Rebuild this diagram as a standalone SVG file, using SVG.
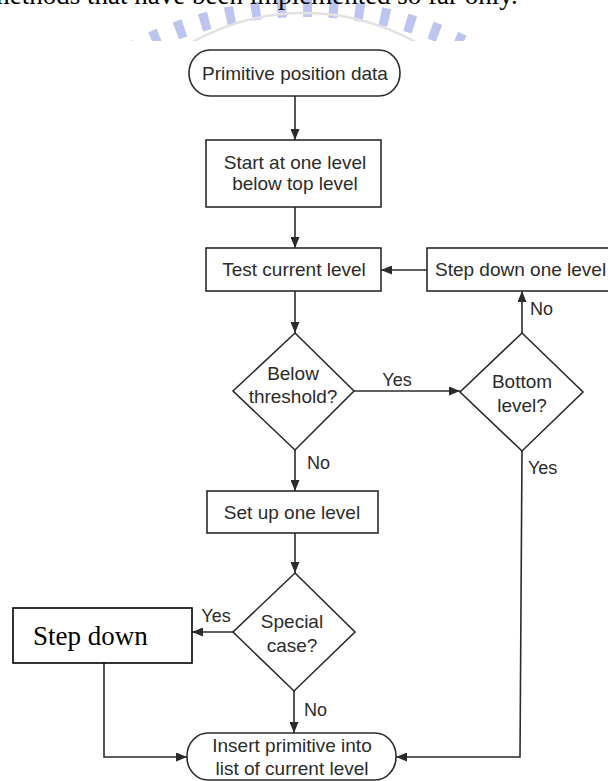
<svg xmlns="http://www.w3.org/2000/svg" width="608" height="781" viewBox="0 0 608 781">
  <defs>
    <style>
      .box { fill: #ffffff; stroke: #2b2b2b; stroke-width: 1.6; }
      .ln { fill: none; stroke: #2b2b2b; stroke-width: 1.6; }
      .t { font-family: "Liberation Sans", Arial, sans-serif; font-size: 19px; fill: #2b2b2b; text-anchor: middle; }
      .t.left { text-anchor: start; }
      .lbl { font-family: "Liberation Sans", Arial, sans-serif; font-size: 18px; fill: #2b2b2b; }
      .lbl.mid { text-anchor: middle; }
      .serif { font-family: "Liberation Serif", "Times New Roman", serif; fill: #000000; }
    </style>
    <marker id="arrow" markerUnits="userSpaceOnUse" markerWidth="11" markerHeight="9" refX="11" refY="4.5" orient="auto">
      <path d="M0,0 L11,4.5 L0,9 z" fill="#2b2b2b"/>
    </marker>
    <clipPath id="topStrip">
      <rect x="0" y="0" width="608" height="41"/>
    </clipPath>
  </defs>

  <rect x="0" y="0" width="608" height="781" fill="#ffffff"/>

  <!-- page header: watermark and the tail of the preceding text line -->
  <g id="page-top" clip-path="url(#topStrip)">
    <circle cx="304" cy="378" r="370" fill="none" stroke="#bcc5f0" stroke-width="18" stroke-dasharray="9 17"/>
    <circle cx="304" cy="242" r="229" fill="none" stroke="#e2e2e2" stroke-width="2.5"/>
    <text class="serif" x="-51" y="4" font-size="27">the methods that have been implemented so far only.</text>
  </g>

  <!-- connectors -->
  <g id="connectors">
    <path class="ln" d="M295,96 V140" marker-end="url(#arrow)"/>
    <path class="ln" d="M295,207 V248" marker-end="url(#arrow)"/>
    <path class="ln" d="M295,291 V333" marker-end="url(#arrow)"/>
    <path class="ln" d="M295,450 V491" marker-end="url(#arrow)"/>
    <path class="ln" d="M295,533 V573" marker-end="url(#arrow)"/>
    <path class="ln" d="M294,691 V733" marker-end="url(#arrow)"/>
    <path class="ln" d="M354,391 H460" marker-end="url(#arrow)"/>
    <path class="ln" d="M522,333 V291" marker-end="url(#arrow)"/>
    <path class="ln" d="M427,270 H381" marker-end="url(#arrow)"/>
    <path class="ln" d="M522,451 L520,757 H396" marker-end="url(#arrow)"/>
    <path class="ln" d="M233,632 H192" marker-end="url(#arrow)"/>
    <path class="ln" d="M104,663 V757 H187" marker-end="url(#arrow)"/>

    <text class="lbl" x="530" y="315">No</text>
    <text class="lbl mid" x="397" y="386">Yes</text>
    <text class="lbl" x="307" y="469">No</text>
    <text class="lbl" x="528" y="474">Yes</text>
    <text class="lbl mid" x="216" y="622">Yes</text>
    <text class="lbl" x="304" y="716">No</text>
  </g>

  <!-- nodes -->
  <g id="primitive-position-data">
    <rect class="box" x="189" y="50" width="211" height="46" rx="21" ry="23"/>
    <text class="t" x="295" y="80">Primitive position data</text>
  </g>

  <g id="start-level">
    <rect class="box" x="206" y="140" width="175" height="67"/>
    <text class="t" x="295" y="169">Start at one level</text>
    <text class="t" x="295" y="190">below top level</text>
  </g>

  <g id="test-current-level">
    <rect class="box" x="206" y="248" width="175" height="43"/>
    <text class="t" x="294" y="276">Test current level</text>
  </g>

  <g id="step-down-one-level">
    <rect class="box" x="427" y="248" width="190" height="43"/>
    <text class="t left" x="435" y="276">Step down one level</text>
  </g>

  <g id="below-threshold">
    <polygon class="box" points="295,333 354,391 295,450 233,391"/>
    <text class="t" x="293" y="380">Below</text>
    <text class="t" x="293" y="403">threshold?</text>
  </g>

  <g id="bottom-level">
    <polygon class="box" points="522,333 583,392 522,451 460,392"/>
    <text class="t" x="522" y="388">Bottom</text>
    <text class="t" x="522" y="412">level?</text>
  </g>

  <g id="set-up-one-level">
    <rect class="box" x="207" y="491" width="171" height="42"/>
    <text class="t" x="292" y="519">Set up one level</text>
  </g>

  <g id="special-case">
    <polygon class="box" points="295,573 355,632 294,691 233,632"/>
    <text class="t" x="292" y="628">Special</text>
    <text class="t" x="292" y="652">case?</text>
  </g>

  <g id="step-down">
    <rect x="13" y="608" width="179" height="55" fill="#ffffff" stroke="#000000" stroke-width="1.6"/>
    <text class="serif" x="33" y="645" font-size="27">Step down</text>
  </g>

  <g id="insert-primitive">
    <rect class="box" x="187" y="733" width="209" height="47" rx="21" ry="23"/>
    <text class="t" x="292" y="752">Insert primitive into</text>
    <text class="t" x="292" y="775">list of current level</text>
  </g>
</svg>
